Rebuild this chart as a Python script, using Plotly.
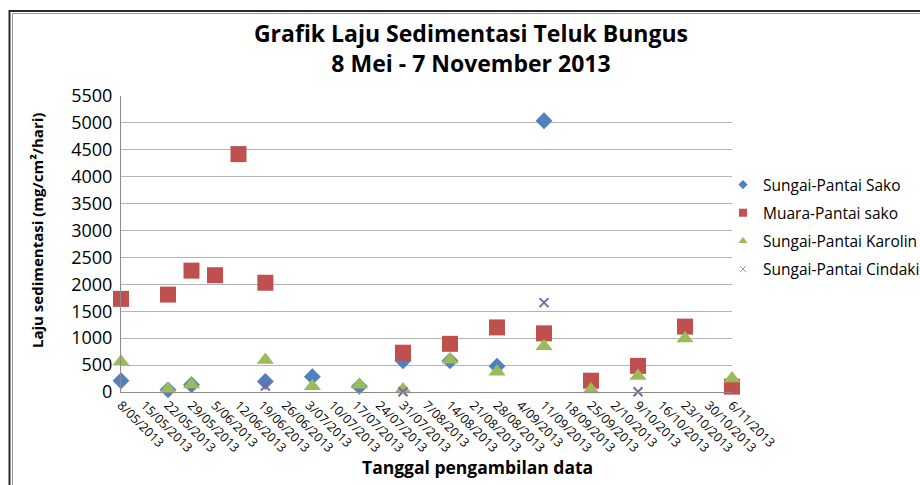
import plotly.graph_objects as go

# ---- data ----
tick_dates = ["2013-05-08", "2013-05-15", "2013-05-22", "2013-05-29", "2013-06-05",
              "2013-06-12", "2013-06-19", "2013-06-26", "2013-07-03", "2013-07-10",
              "2013-07-17", "2013-07-24", "2013-07-31", "2013-08-07", "2013-08-14",
              "2013-08-21", "2013-08-28", "2013-09-04", "2013-09-11", "2013-09-18",
              "2013-09-25", "2013-10-02", "2013-10-09", "2013-10-16", "2013-10-23",
              "2013-10-30", "2013-11-06"]
tick_labels = ["8/05/2013", "15/05/2013", "22/05/2013", "29/05/2013", "5/06/2013",
               "12/06/2013", "19/06/2013", "26/06/2013", "3/07/2013", "10/07/2013",
               "17/07/2013", "24/07/2013", "31/07/2013", "7/08/2013", "14/08/2013",
               "21/08/2013", "28/08/2013", "4/09/2013", "11/09/2013", "18/09/2013",
               "25/09/2013", "2/10/2013", "9/10/2013", "16/10/2013", "23/10/2013",
               "30/10/2013", "6/11/2013"]

sako_dates = ["2013-05-08", "2013-05-22", "2013-05-29", "2013-06-20", "2013-07-04",
              "2013-07-18", "2013-07-31", "2013-08-14", "2013-08-28", "2013-09-11"]
sako_vals = [210, 40, 135, 195, 285, 105, 580, 580, 480, 5040]

muara_dates = ["2013-05-08", "2013-05-22", "2013-05-29", "2013-06-05", "2013-06-12",
               "2013-06-20", "2013-07-31", "2013-08-14", "2013-08-28", "2013-09-11",
               "2013-09-25", "2013-10-09", "2013-10-23", "2013-11-06"]
muara_vals = [1730, 1810, 2255, 2170, 4420, 2030, 730, 895, 1200, 1090, 210, 485, 1215, 100]

karolin_dates = ["2013-05-08", "2013-05-22", "2013-05-29", "2013-06-20", "2013-07-04",
                 "2013-07-18", "2013-07-31", "2013-08-14", "2013-08-28", "2013-09-11",
                 "2013-09-25", "2013-10-09", "2013-10-23", "2013-11-06"]
karolin_vals = [560, 55, 140, 595, 105, 135, 45, 600, 375, 850, 45, 295, 995, 250]

cindaking_dates = ["2013-06-20", "2013-07-31", "2013-09-11", "2013-10-09"]
cindaking_vals = [110, 5, 1660, 5]

series_names = ["Sungai-Pantai Sako", "Muara-Pantai sako", "Sungai-Pantai Karolin",
                "Sungai-Pantai Cindaking"]
colors = ["#4F81BD", "#C0504D", "#9BBB59", "#8064A2"]

FONT = "Open Sans"

fig = go.Figure()

main = [
    (sako_dates, sako_vals, "diamond", 13, colors[0]),
    (muara_dates, muara_vals, "square", 16, colors[1]),
    (karolin_dates, karolin_vals, "triangle-up", 15, colors[2]),
]
for i, (xd, yd, sym, sz, col) in enumerate(main):
    fig.add_trace(go.Scatter(
        x=xd, y=yd, mode="markers", name=series_names[i], showlegend=False,
        cliponaxis=False,
        marker=dict(symbol=sym, size=sz, color=col, line=dict(width=0))))
fig.add_trace(go.Scatter(
    x=cindaking_dates, y=cindaking_vals, mode="markers", name=series_names[3],
    showlegend=False, cliponaxis=False,
    marker=dict(symbol="x-thin", size=9, color=colors[3],
                line=dict(width=2, color=colors[3]))))

# legend-only entries with small symbols
leg = [("diamond", 7), ("square", 8), ("triangle-up", 8), ("x-thin", 6)]
for i, (sym, sz) in enumerate(leg):
    mk = dict(symbol=sym, size=sz, color=colors[i])
    if sym == "x-thin":
        mk["line"] = dict(width=1, color="#9f8fc0")
    fig.add_trace(go.Scatter(
        x=[None], y=[None], mode="markers", name=series_names[i],
        legendgroup="g%d" % i, showlegend=True, marker=mk))

L, R, T, B = 121, 188, 96, 93
W, H = 920, 485
pw, ph = W - L - R, H - T - B

def px_x(x):
    return (x - L) / pw

def px_y(y):
    return (H - B - y) / ph

fig.update_layout(
    width=W, height=H,
    margin=dict(l=L, r=R, t=T, b=B, autoexpand=False),
    paper_bgcolor="white", plot_bgcolor="white",
    font=dict(family=FONT, color="#000000"),
    title=dict(text="<b>Grafik Laju Sedimentasi Teluk Bungus</b><br><b>8 Mei - 7 November 2013</b>",
               font=dict(family=FONT, size=23, color="#000000"),
               xref="container", x=471 / W, xanchor="center",
               yref="container", y=1 - 42 / H, yanchor="middle"),
    xaxis=dict(type="date", range=["2013-05-08", "2013-11-06"],
               tickmode="array", tickvals=tick_dates, ticktext=tick_labels,
               tickangle=45, tickfont=dict(family=FONT, size=12.5, color="#000000"),
               showgrid=False, showline=True, linecolor="#8c8c8c", linewidth=1,
               ticks="", zeroline=False, automargin=False),
    yaxis=dict(range=[0, 5500], dtick=500, tick0=0,
               tickfont=dict(family=FONT, size=18, color="#000000"),
               showgrid=True, gridcolor="#b4b4b4", gridwidth=1,
               showline=True, linecolor="#8c8c8c", linewidth=1,
               ticks="", zeroline=False, ticklabelstandoff=4, automargin=False),
    legend=dict(x=px_x(723), y=px_y(168), xanchor="left", yanchor="top",
                font=dict(family=FONT, size=15.5, color="#000000"),
                traceorder="grouped", tracegroupgap=5,
                bgcolor="rgba(0,0,0,0)"),
    showlegend=True,
)

fig.add_annotation(text="<b>Tanggal pengambilan data</b>", xref="paper", yref="paper",
                   x=px_x(477), y=px_y(467), xanchor="center", yanchor="middle",
                   showarrow=False, font=dict(family=FONT, size=17.5, color="#000000"))
fig.add_annotation(text="<b>Laju sedimentasi (mg/cm²/hari)</b>", xref="paper", yref="paper",
                   x=px_x(37), y=px_y(231), xanchor="center", yanchor="middle",
                   textangle=-90, showarrow=False,
                   font=dict(family=FONT, size=15, color="#000000"))

# outer chart border (double line)
fig.add_shape(type="rect", xref="paper", yref="paper",
              x0=px_x(9.5), x1=px_x(1000), y0=px_y(11), y1=px_y(600),
              line=dict(color="#2a2a2a", width=2), layer="above")
fig.add_shape(type="rect", xref="paper", yref="paper",
              x0=px_x(12.5), x1=px_x(1000), y0=px_y(13.5), y1=px_y(600),
              line=dict(color="#9a9a9a", width=1), layer="above")

fig.write_html("out.html", config={"displayModeBar": False},
               post_script="document.body.style.margin='0';document.body.style.overflow='hidden';")
